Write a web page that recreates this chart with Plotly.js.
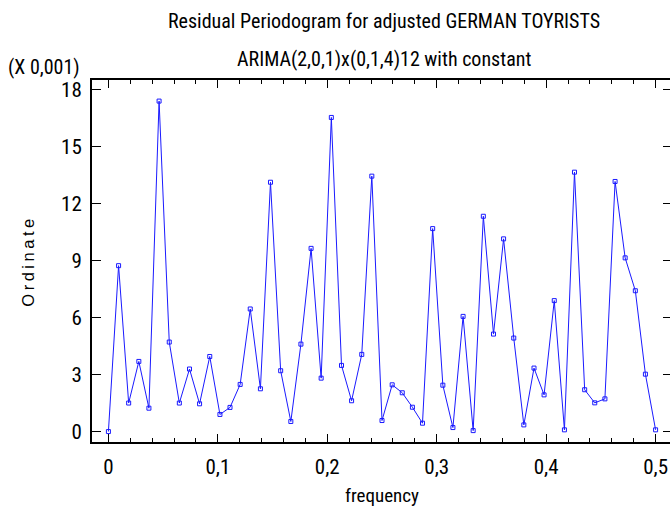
<!DOCTYPE html>
<html>
<head>
<meta charset="utf-8">
<script src="https://cdn.plot.ly/plotly-3.0.1.min.js"></script>
<style>html,body{margin:0;padding:0;overflow:hidden;background:#fff;}</style>
</head>
<body>
<div id="chart"></div>
<script>
// frequency (cycles per observation)
var frequency = [0, 0.0093, 0.0185, 0.0278, 0.0370, 0.0463, 0.0556, 0.0648, 0.0741, 0.0833,
  0.0926, 0.1019, 0.1111, 0.1204, 0.1296, 0.1389, 0.1481, 0.1574, 0.1667, 0.1759,
  0.1852, 0.1944, 0.2037, 0.2130, 0.2222, 0.2315, 0.2407, 0.2500, 0.2593, 0.2685,
  0.2778, 0.2870, 0.2963, 0.3056, 0.3148, 0.3241, 0.3333, 0.3426, 0.3519, 0.3611,
  0.3704, 0.3796, 0.3889, 0.3981, 0.4074, 0.4167, 0.4259, 0.4352, 0.4444, 0.4537,
  0.4630, 0.4722, 0.4815, 0.4907, 0.5000];
// ordinate, in units of 0.001
var ordinate = [0, 8.73, 1.50, 3.69, 1.23, 17.39, 4.71, 1.50, 3.29, 1.46,
  3.95, 0.90, 1.27, 2.48, 6.45, 2.25, 13.12, 3.20, 0.53, 4.60,
  9.64, 2.81, 16.53, 3.48, 1.62, 4.06, 13.44, 0.58, 2.46, 2.04,
  1.28, 0.44, 10.68, 2.44, 0.21, 6.06, 0.05, 11.33, 5.13, 10.14,
  4.92, 0.35, 3.34, 1.93, 6.89, 0.09, 13.65, 2.20, 1.51, 1.72,
  13.16, 9.14, 7.41, 3.02, 0.09];
var xTickVals = [0, 0.1, 0.2, 0.3, 0.4, 0.5];
var xTickText = ['0', '0,1', '0,2', '0,3', '0,4', '0,5'];
var yTickVals = [0, 3, 6, 9, 12, 15, 18];

var narrow = '"Roboto Condensed", "Liberation Sans Narrow", "Arial Narrow", sans-serif';
var regular = '"Liberation Sans", Arial, sans-serif';

var trace = {
  x: frequency, y: ordinate, type: 'scatter', mode: 'lines+markers',
  line: {color: '#1a1aff', width: 1},
  marker: {symbol: 'square-open', size: 4, color: '#1a1aff', line: {width: 1, color: '#1a1aff'}},
  hoverinfo: 'x+y'
};

var layout = {
  width: 672, height: 515,
  margin: {l: 92, r: 0, t: 80, b: 73},
  paper_bgcolor: '#fff', plot_bgcolor: '#fff',
  separators: ',.',
  showlegend: false,
  font: {family: narrow, size: 20, color: '#000'},
  xaxis: {
    range: [-0.015, 0.515], tickvals: xTickVals, ticktext: xTickText,
    ticks: 'inside', ticklen: 8, tickwidth: 1, tickcolor: '#000',
    minor: {dtick: 0.02, tick0: 0, ticks: 'inside', ticklen: 4, tickcolor: '#000', tickwidth: 1},
    showline: true, linecolor: '#000', linewidth: 2, mirror: 'ticks',
    showgrid: false, zeroline: false,
    tickfont: {family: narrow, size: 21},
    ticklabelstandoff: 5,
    title: {text: 'frequency', font: {family: narrow, size: 19}, standoff: 10}
  },
  yaxis: {
    range: [-0.55, 18.5], tickvals: yTickVals,
    ticks: 'inside', ticklen: 9, tickwidth: 1, tickcolor: '#000',
    showline: true, linecolor: '#000', linewidth: 2, mirror: 'ticks',
    showgrid: false, zeroline: false,
    tickfont: {family: narrow, size: 21},
    ticklabelstandoff: 4,
    title: {text: 'Ordinate', font: {family: regular, size: 16.5}, standoff: 22}
  },
  annotations: [
    {text: 'Residual Periodogram for adjusted GERMAN TOYRISTS', xref: 'paper', yref: 'paper',
     x: 0.503, y: 1, yshift: 59, xanchor: 'center', yanchor: 'middle', showarrow: false,
     font: {family: narrow, size: 20}},
    {text: 'ARIMA(2,0,1)x(0,1,4)12 with constant', xref: 'paper', yref: 'paper',
     x: 0.503, y: 1, yshift: 21, xanchor: 'center', yanchor: 'middle', showarrow: false,
     font: {family: narrow, size: 20}},
    {text: '(X 0,001)', xref: 'paper', yref: 'paper',
     x: 0, xshift: -10, y: 1, yshift: 13, xanchor: 'right', yanchor: 'middle', showarrow: false,
     font: {family: narrow, size: 20}}
  ]
};

Plotly.newPlot('chart', [trace], layout, {displayModeBar: false, staticPlot: true}).then(function (gd) {
  var yt = gd.querySelector('.ytitle');
  if (yt) { yt.style.letterSpacing = '3.5px'; }
});
</script>
</body>
</html>
